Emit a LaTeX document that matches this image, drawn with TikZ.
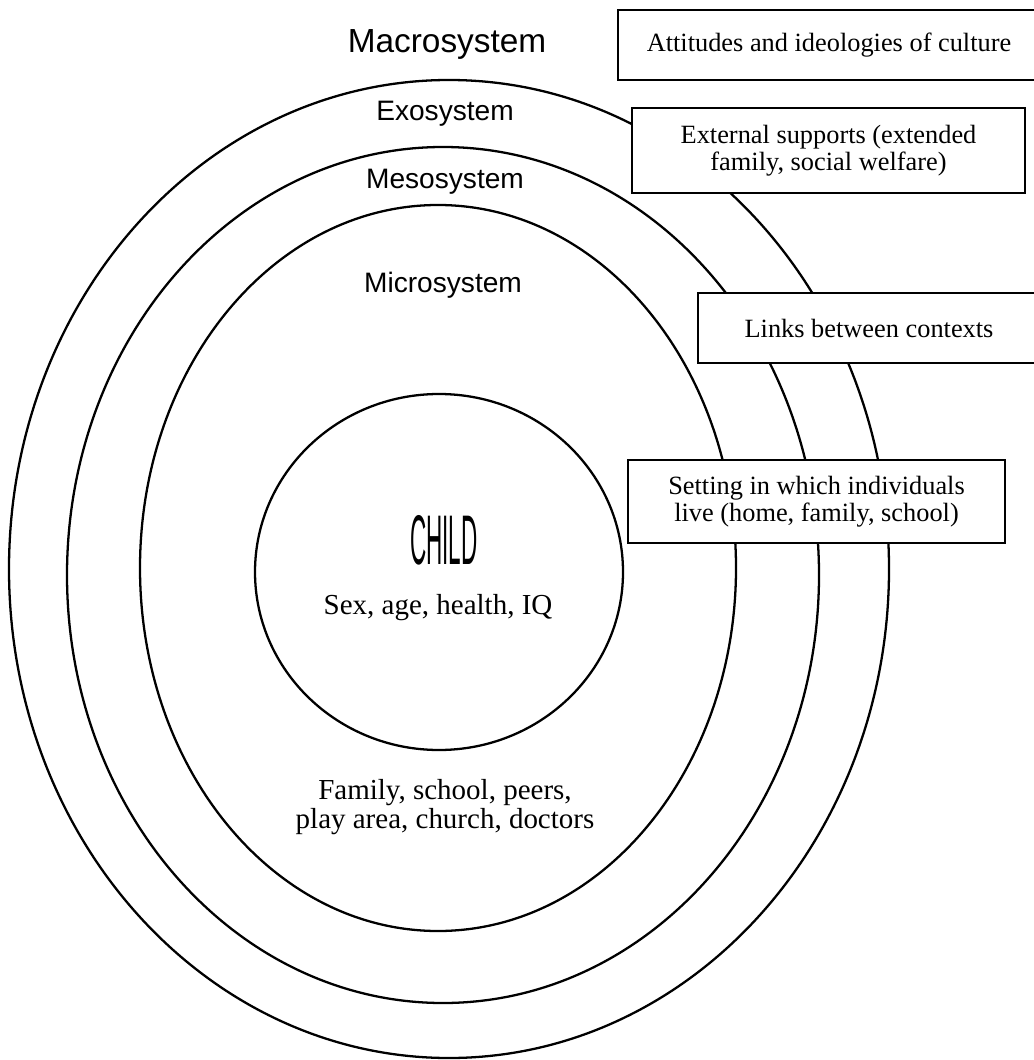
\documentclass[tikz,border=0pt]{standalone}
\usepackage{fontspec}
\setmainfont{Liberation Serif}
\newfontfamily\layerfont{Liberation Sans}

\tikzset{
  ring/.style={line width=1.3pt},
  notebox/.style={draw, line width=1.6pt, fill=white, align=center, inner sep=0pt,
    font=\fontsize{15}{15.5}\selectfont},
  layer/.style={font=\layerfont\fontsize{16}{18}\selectfont},
}

\begin{document}
\begin{tikzpicture}[x=0.02cm,y=-0.02cm]
	\useasboundingbox (0,0) rectangle (1033,1060);
	% nested systems
	\coordinate (exoc) at (449,569);
	\coordinate (mesoc) at (443,575);
	\coordinate (microc) at (438,568);
	\coordinate (childc) at (439,572);
	\draw[ring] (exoc) ellipse [x radius=440, y radius=489];
	\draw[ring] (mesoc) ellipse [x radius=376, y radius=428];
	\draw[ring] (microc) ellipse [x radius=298, y radius=363];
	\draw[ring] (childc) ellipse [x radius=184, y radius=178];
	% layer names
	\node[layer, font=\layerfont\fontsize{19}{20}\selectfont] (macro) at (447,44) {Macrosystem};
	\node[layer] (exo) at (445,114) {Exosystem};
	\node[layer] (meso) at (445,182) {Mesosystem};
	\node[layer] (micro) at (443,285) {Microsystem};
	% inside
	\node (child) at (444,540) {\scalebox{0.32}[1]{\layerfont\fontsize{40}{40}\selectfont CHILD}};
	\node[font=\fontsize{16.5}{16.5}\selectfont] (traits) at (438,608) {Sex, age, health, IQ};
	\node[font=\fontsize{16.5}{16.5}\selectfont, align=center] (settings) at (445,807)
		{Family, school, peers,\\ play area, church, doctors};
	% boxes on the right
	\node[notebox, minimum width=8.44cm, minimum height=1.4cm] (culture) at (829,45)
		{Attitudes and ideologies of culture};
	\node[notebox, minimum width=7.86cm, minimum height=1.7cm] (support) at (828.5,150.5)
		{External supports (extended\\ family, social welfare)};
	\node[notebox, minimum width=6.84cm, minimum height=1.4cm] (links) at (869,328)
		{Links between contexts};
	\node[notebox, minimum width=7.54cm, minimum height=1.66cm] (setting) at (816.5,501.5)
		{Setting in which individuals\\ live (home, family, school)};
\end{tikzpicture}
\end{document}
